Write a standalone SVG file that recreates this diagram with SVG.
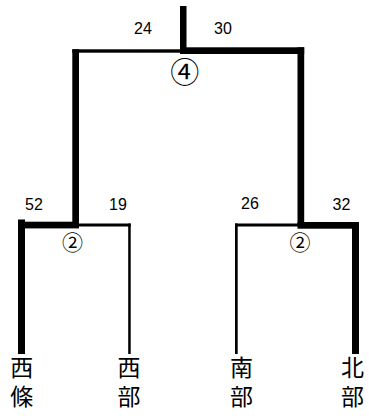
<svg xmlns="http://www.w3.org/2000/svg" width="369" height="419" viewBox="0 0 369 419">
<style>
.num{font-family:"Liberation Sans","Noto Sans CJK JP",sans-serif;font-size:16px;fill:#000;text-anchor:middle}
.cir{font-family:"Noto Sans CJK JP",sans-serif;fill:#000;text-anchor:middle}
.lbl{font-family:"Noto Sans CJK JP",sans-serif;font-size:23px;fill:#000;text-anchor:start;writing-mode:vertical-rl;letter-spacing:6px}
.ln{fill:#000}
</style>
<rect width="369" height="419" fill="#fff"/>
<g id="connectors">
<rect class="ln" x="180" y="6" width="6.5" height="46"/>
<rect class="ln" x="72.3" y="49.3" width="111" height="3.4"/>
<rect class="ln" x="180" y="47.3" width="124.2" height="6.7"/>
<rect class="ln" x="72.3" y="49.3" width="6.7" height="176"/>
<rect class="ln" x="297.5" y="47.3" width="6.7" height="178"/>
<rect class="ln" x="18" y="221.7" width="61" height="6.7"/>
<rect class="ln" x="18" y="219.5" width="7" height="134.5"/>
<rect class="ln" x="76" y="223.5" width="54.7" height="3"/>
<rect class="ln" x="128.2" y="223.5" width="2.5" height="130.5"/>
<rect class="ln" x="235" y="223.5" width="65" height="3"/>
<rect class="ln" x="235" y="223.5" width="2.7" height="130.5"/>
<rect class="ln" x="297.5" y="222" width="61.5" height="6.7"/>
<rect class="ln" x="352" y="222" width="7" height="132"/>
</g>
<g id="root">
<text class="num" x="143" y="34.3">24</text>
<text class="num" x="223" y="34.3">30</text>
<text class="cir" x="184.7" y="82.5" font-size="29">④</text>
</g>
<g id="left">
<text class="num" x="34" y="210">52</text>
<text class="num" x="118" y="210">19</text>
<text class="cir" x="72.5" y="250" font-size="21">②</text>
</g>
<g id="right">
<text class="num" x="250" y="209" font-size="18">26</text>
<text class="num" x="341.5" y="210">32</text>
<text class="cir" x="300" y="250" font-size="21">②</text>
</g>
<g id="leaf-saijo"><text class="lbl" x="21.7" y="355.5">西條</text></g>
<g id="leaf-seibu"><text class="lbl" x="129" y="355.5">西部</text></g>
<g id="leaf-nanbu"><text class="lbl" x="241.5" y="355.5">南部</text></g>
<g id="leaf-hokubu"><text class="lbl" x="352.5" y="355.5">北部</text></g>
</svg>
